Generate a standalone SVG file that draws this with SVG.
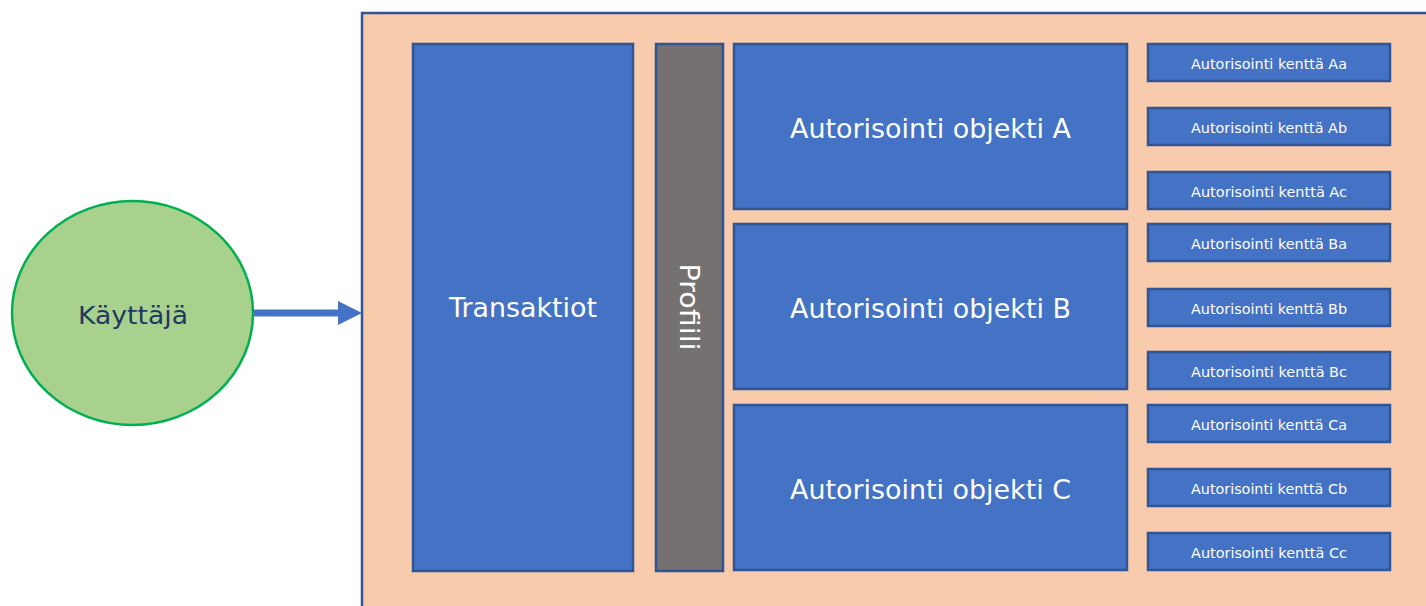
<svg xmlns="http://www.w3.org/2000/svg" width="1426" height="606" viewBox="0 0 1426 606">
<style>
.box{fill:#4472C4;stroke:#2F5597;stroke-width:2.5}
.t{font-family:"DejaVu Sans",Verdana,sans-serif;fill:#ffffff;text-anchor:middle;dominant-baseline:central}
.big{font-size:26.5px}
.small{font-size:14px}
</style>
<defs>
<marker id="ah" markerWidth="24" markerHeight="24" refX="0" refY="12" orient="auto" markerUnits="userSpaceOnUse">
<path d="M0,0 L24,12 L0,24 Z" fill="#4472C4"/>
</marker>
</defs>
<rect id="container" x="362" y="13" width="1070" height="600" fill="#F8CBAD" stroke="#2F5597" stroke-width="2.5"/>
<g id="user">
<ellipse cx="132.5" cy="313" rx="120.5" ry="112" fill="#A9D18E" stroke="#00B050" stroke-width="2.5"/>
<text x="133" y="315" font-family="'DejaVu Sans',Verdana,sans-serif" font-size="24.5" fill="#1F3864" text-anchor="middle" dominant-baseline="central" textLength="110" lengthAdjust="spacingAndGlyphs">Käyttäjä</text>
</g>
<g id="connectors">
<line x1="253" y1="313" x2="338" y2="313" stroke="#4472C4" stroke-width="7" marker-end="url(#ah)"/>
</g>
<g id="transaktiot"><rect class="box" x="413" y="44" width="220" height="527"/><text class="t big" x="523" y="307" textLength="148" lengthAdjust="spacingAndGlyphs">Transaktiot</text></g>
<g id="profiili"><rect x="656" y="44" width="67" height="527" fill="#767171" stroke="#2F5597" stroke-width="2.5"/><text class="t big" transform="translate(689,307) rotate(90)" x="0" y="0" textLength="87" lengthAdjust="spacingAndGlyphs">Profiili</text></g>
<g id="objA"><rect class="box" x="734" y="44" width="393" height="165"/><text class="t big" x="930.5" y="128" textLength="281" lengthAdjust="spacingAndGlyphs">Autorisointi objekti A</text></g>
<g id="objB"><rect class="box" x="734" y="224" width="393" height="165"/><text class="t big" x="930.5" y="308" textLength="281" lengthAdjust="spacingAndGlyphs">Autorisointi objekti B</text></g>
<g id="objC"><rect class="box" x="734" y="405" width="393" height="165"/><text class="t big" x="930.5" y="489" textLength="281" lengthAdjust="spacingAndGlyphs">Autorisointi objekti C</text></g>
<g id="fAa"><rect class="box" x="1148" y="44" width="242" height="37"/><text class="t small" x="1269" y="64" textLength="156" lengthAdjust="spacingAndGlyphs">Autorisointi kenttä Aa</text></g>
<g id="fAb"><rect class="box" x="1148" y="108" width="242" height="37"/><text class="t small" x="1269" y="128" textLength="156" lengthAdjust="spacingAndGlyphs">Autorisointi kenttä Ab</text></g>
<g id="fAc"><rect class="box" x="1148" y="172" width="242" height="37"/><text class="t small" x="1269" y="192" textLength="156" lengthAdjust="spacingAndGlyphs">Autorisointi kenttä Ac</text></g>
<g id="fBa"><rect class="box" x="1148" y="224" width="242" height="37"/><text class="t small" x="1269" y="244" textLength="156" lengthAdjust="spacingAndGlyphs">Autorisointi kenttä Ba</text></g>
<g id="fBb"><rect class="box" x="1148" y="289" width="242" height="37"/><text class="t small" x="1269" y="309" textLength="156" lengthAdjust="spacingAndGlyphs">Autorisointi kenttä Bb</text></g>
<g id="fBc"><rect class="box" x="1148" y="352" width="242" height="37"/><text class="t small" x="1269" y="372" textLength="156" lengthAdjust="spacingAndGlyphs">Autorisointi kenttä Bc</text></g>
<g id="fCa"><rect class="box" x="1148" y="405" width="242" height="37"/><text class="t small" x="1269" y="425" textLength="156" lengthAdjust="spacingAndGlyphs">Autorisointi kenttä Ca</text></g>
<g id="fCb"><rect class="box" x="1148" y="469" width="242" height="37"/><text class="t small" x="1269" y="489" textLength="156" lengthAdjust="spacingAndGlyphs">Autorisointi kenttä Cb</text></g>
<g id="fCc"><rect class="box" x="1148" y="533" width="242" height="37"/><text class="t small" x="1269" y="553" textLength="156" lengthAdjust="spacingAndGlyphs">Autorisointi kenttä Cc</text></g>
</svg>
